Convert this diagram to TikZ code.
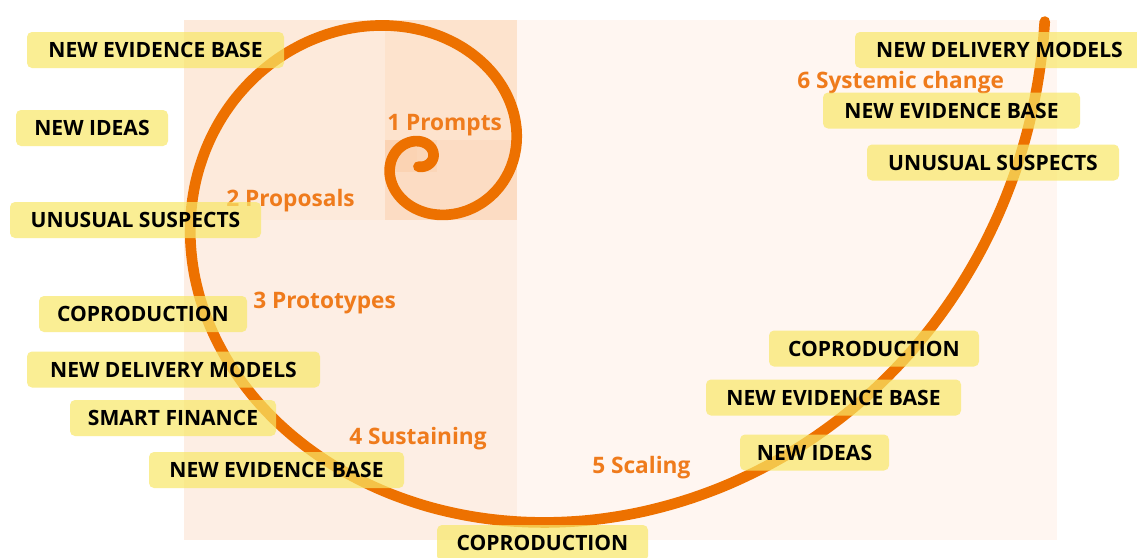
\documentclass[tikz,border=0pt]{standalone}
\usepackage{fontspec}
\setmainfont{Open Sans}
\definecolor{spiralorange}{HTML}{ED7100}
\definecolor{stageorange}{HTML}{EF7B1C}
\definecolor{tagyellow}{HTML}{F8E767}
\definecolor{bgA}{HTML}{FFF6F1}
\definecolor{bgB}{HTML}{FDEEE4}
\definecolor{bgC}{HTML}{FDEADB}
\definecolor{bgD}{HTML}{FDE3CD}
\definecolor{bgE}{HTML}{FCDCC3}
\definecolor{bgF}{HTML}{FBD3B3}
\definecolor{bgG}{HTML}{FBD6B8}
\begin{document}
\begin{tikzpicture}[x=0.75pt,y=-0.75pt,
  tag/.style={fill=tagyellow, fill opacity=0.7, text opacity=1, text=black,
    rounded corners=3.75pt, minimum height=27pt, inner sep=0pt,
    text height=11.3pt, text depth=0pt,
    font=\bfseries\fontsize{15.8}{18}\selectfont},
  stage/.style={anchor=base west, inner sep=0pt, text=stageorange,
    font=\bfseries\fontsize{17}{20}\selectfont},
  spiral/.style={draw=spiralorange, line width=8pt, line cap=round}]
\useasboundingbox (0,0) rectangle (1137,557);
\clip (0,0) rectangle (1137,557);
\fill[white] (0,0) rectangle (1137,557);

% golden-ratio tiling behind the spiral
\fill[bgA] (517,20) rectangle (1057,540);
\fill[bgB] (184,220) rectangle (517,540);
\fill[bgC] (184,20) rectangle (385,220);
\fill[bgD] (385,20) rectangle (517,140);
\fill[bgE] (437,140) rectangle (517,220);
\fill[bgE] (385,172) rectangle (437,220);
\fill[bgF] (385,140) rectangle (417,172);
\fill[bgG] (417,140) rectangle (437,172);

% logarithmic (golden) spiral
\draw[spiral] plot[domain=-13.7:800, samples=500, smooth, variable=\t]
  ({427 - 10*(\t/800)*(\t/800)*(\t/800) + 591*exp(-0.0053468*\t)*cos(\t)},
   {163 - 4*(\t/800)*(\t/800)*(\t/800) + 555*exp(-0.0053468*\t)*sin(\t)});

% stage labels
\node[stage] (s1) at (387,130) {1 Prompts};
\node[stage] (s2) at (226,206) {2 Proposals};
\node[stage] (s3) at (253,308) {3 Prototypes};
\node[stage] (s4) at (349,444) {4 Sustaining};
\node[stage] (s5) at (592,473) {5 Scaling};
\node[stage] (s6) at (797,88) {6 Systemic change};

% tags on the left
\node[tag, minimum width=192.75pt] (l1) at (155.5,50) {NEW EVIDENCE BASE};
\node[tag, minimum width=114pt] (l2) at (92,128) {NEW IDEAS};
\node[tag, minimum width=188.25pt] (l3) at (135.5,220) {UNUSUAL SUSPECTS};
\node[tag, minimum width=156pt] (l4) at (143,314) {COPRODUCTION};
\node[tag, minimum width=219.75pt] (l5) at (173.5,369.5) {NEW DELIVERY MODELS};
\node[tag, minimum width=154.5pt] (l6) at (173,418) {SMART FINANCE};
\node[tag, minimum width=191.25pt] (l7) at (276.5,470) {NEW EVIDENCE BASE};
% tag at the bottom
\node[tag, minimum width=158.25pt] (b1) at (542.5,543) {COPRODUCTION};
% tags on the right
\node[tag, minimum width=216.75pt] (r1) at (999.5,50) {NEW DELIVERY MODELS};
\node[tag, minimum width=192.75pt] (r2) at (951.5,110.5) {NEW EVIDENCE BASE};
\node[tag, minimum width=189pt] (r3) at (993,162.5) {UNUSUAL SUSPECTS};
\node[tag, minimum width=157.5pt] (r4) at (874,348.5) {COPRODUCTION};
\node[tag, minimum width=191.25pt] (r5) at (833.5,397.5) {NEW EVIDENCE BASE};
\node[tag, minimum width=111.75pt] (r6) at (814.5,452.5) {NEW IDEAS};
\end{tikzpicture}
\end{document}
